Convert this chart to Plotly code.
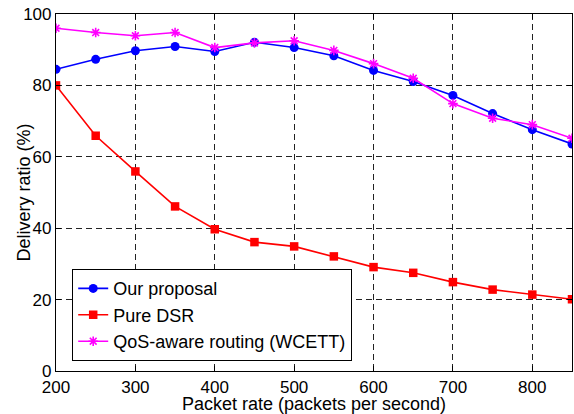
import plotly.graph_objects as go

packet_rate = [200, 250, 300, 350, 400, 450, 500, 550, 600, 650, 700, 750, 800, 850]
our_proposal = [84.5, 87.3, 89.7, 90.9, 89.5, 92.1, 90.6, 88.3, 84.2, 81.1, 77.2, 72.1, 67.6, 63.6]
pure_dsr = [80.0, 65.9, 55.9, 46.1, 39.7, 36.1, 34.9, 32.1, 29.1, 27.5, 24.9, 22.8, 21.4, 20.1]
qos_wcett = [96.0, 94.8, 93.9, 94.8, 90.6, 91.9, 92.5, 89.8, 86.1, 82.0, 74.9, 70.8, 69.0, 65.2]

x_ticks = [200, 300, 400, 500, 600, 700, 800]
y_ticks = [0, 20, 40, 60, 80, 100]

font_family = "Liberation Sans, Arial, sans-serif"

fig = go.Figure()
fig.add_trace(go.Scatter(x=packet_rate, y=our_proposal, mode="lines+markers", name="Our proposal",
                         line=dict(color="#0000ff", width=1.6),
                         marker=dict(symbol="circle", size=9, color="#0000ff")))
fig.add_trace(go.Scatter(x=packet_rate, y=pure_dsr, mode="lines+markers", name="Pure DSR",
                         line=dict(color="#ff0000", width=1.6),
                         marker=dict(symbol="square", size=8.5, color="#ff0000")))
fig.add_trace(go.Scatter(x=packet_rate, y=qos_wcett, mode="lines+markers", name="QoS-aware routing (WCETT)",
                         line=dict(color="#ff00ff", width=1.6),
                         marker=dict(symbol="asterisk-open", size=8, color="#ff00ff",
                                     line=dict(color="#ff00ff", width=1.6))))

axis_common = dict(showline=True, linecolor="black", linewidth=1.2, mirror="ticks",
                   ticks="inside", ticklen=5, tickcolor="black", tickwidth=1,
                   showgrid=True, gridcolor="#222222", griddash="6px,4px", gridwidth=1,
                   zeroline=False, ticklabeloverflow="allow",
                   tickfont=dict(size=17, color="black", family=font_family))

fig.update_xaxes(range=[200, 850], tickvals=x_ticks, ticktext=[str(v) for v in x_ticks],
                 title=dict(text="Packet rate (packets per second)",
                            font=dict(size=18, color="black", family=font_family), standoff=1),
                 **axis_common)
fig.update_yaxes(range=[0, 100], tickvals=y_ticks, ticktext=[str(v) for v in y_ticks],
                 **axis_common)

fig.add_annotation(text="Delivery ratio (%)", textangle=-90, xref="paper", yref="paper",
                   x=0, y=0.5, xanchor="center", yanchor="middle", xshift=-33, showarrow=False,
                   font=dict(size=18, color="black", family=font_family))

fig.update_layout(
    width=574, height=414,
    margin=dict(l=56, r=2, t=14, b=43, autoexpand=False),
    plot_bgcolor="white", paper_bgcolor="white",
    font=dict(family=font_family, color="black"),
    showlegend=True,
    legend=dict(x=0.031, y=0.2857, xanchor="left", yanchor="top",
                bgcolor="white", bordercolor="black", borderwidth=1.2,
                font=dict(size=18, color="black", family=font_family),
                itemwidth=30, tracegroupgap=0),
)

fig.write_html("out.html", config={"displayModeBar": False},
               post_script="document.body.style.margin='0';document.body.style.overflow='hidden';")
